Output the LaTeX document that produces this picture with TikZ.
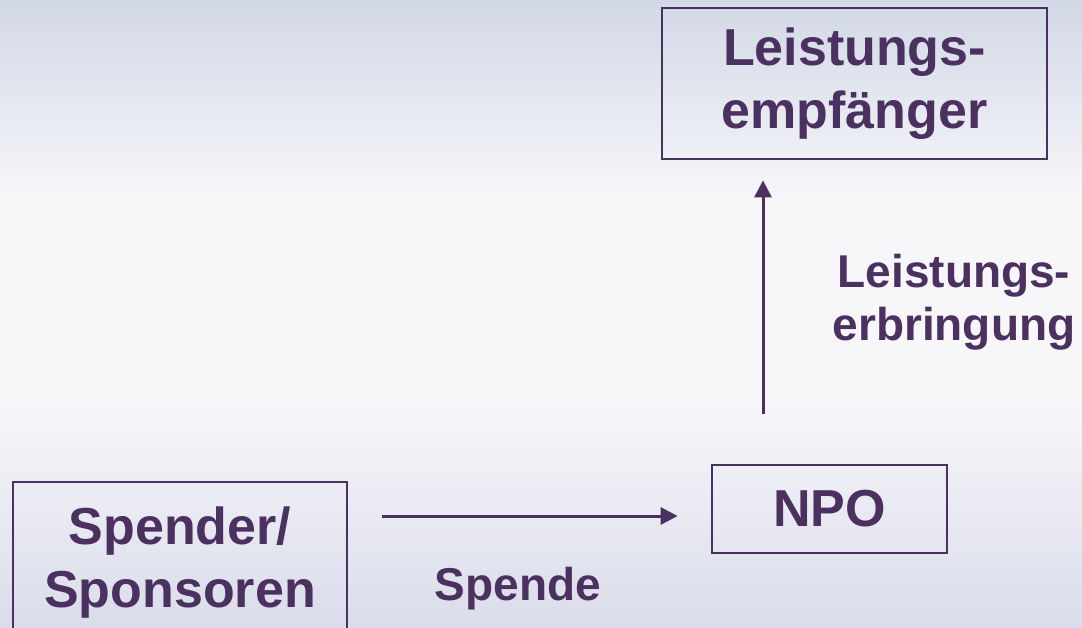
\documentclass[tikz,border=0pt]{standalone}
\usepackage{fontspec}
\setsansfont{Liberation Sans}
\usetikzlibrary{arrows.meta,positioning}

\definecolor{npopurple}{RGB}{75,49,96}
\definecolor{bgtop}{RGB}{210,216,230}
\definecolor{bgmid}{RGB}{247,247,250}
\definecolor{bgbot}{RGB}{218,220,234}

\newcommand{\boxfont}{\sffamily\bfseries\fontsize{52}{63}\selectfont}
\newcommand{\flowfont}{\sffamily\bfseries\fontsize{46}{53}\selectfont}

\tikzset{
  party/.style = {draw = npopurple, line width = 2.8pt, text = npopurple,
                  font = \boxfont, align = center, inner sep = 0pt},
  flow/.style  = {draw = npopurple, line width = 3pt,
                  -{Triangle[length = 17pt, width = 17pt]}},
  flowtext/.style = {text = npopurple, font = \flowfont, align = center,
                     inner sep = 0pt}
}

\begin{document}
\begin{tikzpicture}[x = 1pt, y = -1pt]
  \clip (0,0) rectangle (1082,627);
  % background
  \shade[top color = bgtop, bottom color = bgmid] (0,0) rectangle (1082,200);
  \fill[bgmid] (0,199) rectangle (1082,401);
  \shade[top color = bgmid, bottom color = bgbot] (0,400) rectangle (1082,627);

  \node [party, minimum width = 385pt, minimum height = 151pt]
    (empf) at (854.5,83.5) {Leistungs-\\empfänger};
  \node [party, minimum width = 235pt, minimum height = 88pt]
    (npo) at (829.5,509) {NPO};
  \node [party, minimum width = 334pt, minimum height = 162pt]
    (spender) at (180,563) {Spender/\\Sponsoren};

  \coordinate (up) at (763,0);
  \coordinate (across) at (0,516);

  \draw [flow, shorten <= 34pt, shorten >= 33pt]
    (spender.east |- across) -- (npo.west |- across);
  \draw [flow, shorten <= 50pt, shorten >= 20pt]
    (npo.north -| up) -- (empf.south -| up);

  \node [flowtext] (erbringung) at (954,302) {Leistungs-\\erbringung};
  \node [flowtext, anchor = base] (spende) at (518,600) {Spende};
\end{tikzpicture}
\end{document}
